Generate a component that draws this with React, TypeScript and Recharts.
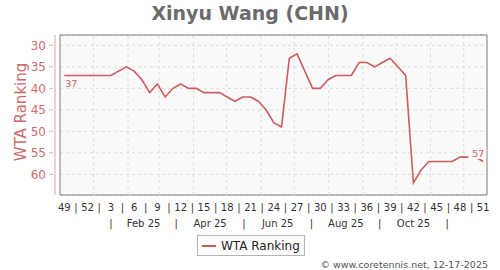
import React from "react";
import {
  CartesianGrid,
  LabelList,
  Legend,
  Line,
  LineChart,
  ReferenceArea,
  ReferenceLine,
  XAxis,
  YAxis,
} from "recharts";

const FONT = '"DejaVu Sans", Verdana, sans-serif';
const RED = "#cd5c5c";

const PLAYER = "Xinyu Wang (CHN)";
const SERIES_NAME = "WTA Ranking";
const CREDIT = "© www.coretennis.net, 12-17-2025";

// ISO week numbers, Dec 2024 -> Dec 2025
const WEEKS = [
  49, 50, 51, 52, 1, 2, 3, 4, 5, 6, 7, 8, 9, 10, 11, 12, 13, 14, 15, 16, 17, 18, 19, 20, 21, 22,
  23, 24, 25, 26, 27, 28, 29, 30, 31, 32, 33, 34, 35, 36, 37, 38, 39, 40, 41, 42, 43, 44, 45, 46,
  47, 48, 49, 50, 51,
];

const RANKS = [
  37, 37, 37, 37, 37, 37, 37, 36, 35, 36, 38, 41, 39, 42, 40, 39, 40, 40, 41, 41, 41, 42, 43, 42,
  42, 43, 45, 48, 49, 33, 32, 36, 40, 40, 38, 37, 37, 37, 34, 34, 35, 34, 33, 35, 37, 62, 59, 57,
  57, 57, 57, 56, 56, 56, 57,
];

const Y_TICKS = [30, 35, 40, 45, 50, 55, 60];
const Y_DOMAIN: [number, number] = [27.6, 64.8];

const MONTH_NAMES = ["Jan", "Feb", "Mar", "Apr", "May", "Jun", "Jul", "Aug", "Sep", "Oct", "Nov", "Dec"];
const YEAR = 2025;

// x is measured in days from Jan 1; each week sits at its midpoint (Thursday noon)
const DAY = 86400000;
const YEAR_START = Date.UTC(YEAR, 0, 1);
const FIRST_WEEK_MID = Date.UTC(2024, 11, 5, 12);
const toDays = (t: number) => (t - YEAR_START) / DAY;

const data = RANKS.map((rank, i) => ({
  week: WEEKS[i],
  x: toDays(FIRST_WEEK_MID) + 7 * i,
  rank,
}));

const X_DOMAIN: [number, number] = [data[0].x - 3.9, data[data.length - 1].x + 3.4];

const key = (v: number) => v.toFixed(2);

// week row: a label every third week, "|" halfway between labels
const weekTickText = new Map<string, string>();
const weekTicks: number[] = [];
for (let i = 0; i < data.length; i += 3) {
  weekTicks.push(data[i].x);
  weekTickText.set(key(data[i].x), String(data[i].week));
  if (i + 3 < data.length) {
    const mid = data[i].x + 10.5;
    weekTicks.push(mid);
    weekTickText.set(key(mid), "|");
  }
}

// month starts for the dashed vertical grid
const monthStarts = Array.from({ length: 13 }, (_, m) => toDays(Date.UTC(YEAR, m, 1)));
const gridDays = monthStarts.slice(0, 12).filter((d) => d > X_DOMAIN[0] && d < X_DOMAIN[1]);

// month row: even months labelled, odd months marked with a separator
const monthTickText = new Map<string, string>();
const monthTicks: number[] = [];
for (let m = 0; m < 11; m++) {
  const mid = (monthStarts[m] + monthStarts[m + 1]) / 2;
  monthTicks.push(mid);
  monthTickText.set(key(mid), m % 2 === 1 ? `${MONTH_NAMES[m]} ${String(YEAR).slice(2)}` : "|");
}

const WeekTick = ({ x, y, payload }: any) => (
  <text x={x} y={y + 13.5} textAnchor="middle" fontSize={10} fill="#333" fontFamily={FONT}>
    {weekTickText.get(key(payload.value))}
  </text>
);

const MonthTick = ({ x, y, payload }: any) => (
  <text x={x} y={y + 14} textAnchor="middle" fontSize={10} fill="#333" fontFamily={FONT}>
    {monthTickText.get(key(payload.value))}
  </text>
);

const RankTick = ({ x, y, payload }: any) => (
  <g>
    <line x1={x - 8.5} x2={x - 5} y1={y} y2={y} stroke="#e2a3a3" />
    <text
      x={x - 12}
      y={y + 4.2}
      textAnchor="end"
      fontSize={12}
      fill="#cd6a6a"
      fontFamily={FONT}
    >
      {payload.value}
    </text>
  </g>
);

// first and last values are written next to the line
const EndLabel = ({ x, y, value, index }: any) => {
  if (index === 0) {
    return (
      <text x={x + 1} y={y + 12} fontSize={9.5} fill={RED} fontFamily={FONT}>
        {value}
      </text>
    );
  }
  if (index === RANKS.length - 1) {
    return (
      <g>
        <rect x={x - 15} y={y - 15} width={18} height={12.5} fill="#fafafa" />
        <text x={x + 1} y={y - 4.5} textAnchor="end" fontSize={9.5} fill={RED} fontFamily={FONT}>
          {value}
        </text>
      </g>
    );
  }
  return null;
};

const LegendBox = () => (
  <div
    style={{
      display: "flex",
      alignItems: "center",
      height: 21,
      boxSizing: "border-box",
      border: "1px solid #b4b4b4",
      background: "#fff",
      padding: "0 4px",
      fontFamily: FONT,
      fontSize: 12,
      color: "#222",
      whiteSpace: "nowrap",
    }}
  >
    <span style={{ width: 14, borderTop: `2px solid ${RED}`, marginRight: 5 }} />
    {SERIES_NAME}
  </div>
);

export default function App() {
  return (
    <div
      style={{
        position: "fixed",
        left: 0,
        top: 0,
        width: 500,
        height: 270,
        background: "#fff",
        fontFamily: FONT,
      }}
    >
      <div
        style={{
          position: "absolute",
          left: 0,
          width: 500,
          top: 2,
          textAlign: "center",
          fontSize: 19,
          fontWeight: "bold",
          color: "#6b6b6b",
        }}
      >
        {PLAYER}
      </div>
      <div
        style={{
          position: "absolute",
          left: 21,
          top: 112,
          transform: "translate(-50%, -50%) rotate(-90deg)",
          fontSize: 15,
          color: "#cd6a6a",
          whiteSpace: "nowrap",
        }}
      >
        {SERIES_NAME}
      </div>
      <LineChart
        width={500}
        height={270}
        data={data}
        margin={{ top: 35, right: 13, left: 0, bottom: 18 }}
      >
        <CartesianGrid
          vertical={false}
          fill="#fafafa"
          stroke="#dcdcdc"
          strokeDasharray="3 3"
        />
        {gridDays.map((d) => (
          <ReferenceLine key={d} x={d} stroke="#dcdcdc" strokeDasharray="3 3" />
        ))}
        <XAxis
          dataKey="x"
          type="number"
          domain={X_DOMAIN}
          allowDataOverflow
          ticks={weekTicks}
          interval={0}
          tick={<WeekTick />}
          tickLine={false}
          tickSize={0}
          axisLine={false}
          height={16}
        />
        <XAxis
          xAxisId="month"
          dataKey="x"
          type="number"
          domain={X_DOMAIN}
          allowDataOverflow
          ticks={monthTicks}
          interval={0}
          tick={<MonthTick />}
          tickLine={false}
          tickSize={0}
          axisLine={false}
          height={20}
        />
        <YAxis
          type="number"
          reversed
          domain={Y_DOMAIN}
          allowDataOverflow
          ticks={Y_TICKS}
          interval={0}
          width={60}
          tickSize={0}
          tickLine={false}
          tick={<RankTick />}
          axisLine={{ stroke: "#e2a3a3", transform: "translate(-5,0)" }}
        />
        <ReferenceArea
          x1={X_DOMAIN[0]}
          x2={X_DOMAIN[1]}
          y1={Y_DOMAIN[0]}
          y2={Y_DOMAIN[1]}
          fill="none"
          stroke="#7a7a7a"
          ifOverflow="visible"
        />
        <Line
          dataKey="rank"
          name={SERIES_NAME}
          stroke={RED}
          strokeWidth={1.6}
          dot={false}
          isAnimationActive={false}
        >
          <LabelList dataKey="rank" content={<EndLabel />} />
        </Line>
        <Legend
          content={<LegendBox />}
          wrapperStyle={{ left: 197, top: 235, bottom: "auto", width: "auto" }}
        />
      </LineChart>
      <div
        style={{
          position: "absolute",
          right: 12,
          top: 259,
          fontSize: 9.5,
          color: "#555",
          whiteSpace: "nowrap",
        }}
      >
        {CREDIT}
      </div>
    </div>
  );
}
